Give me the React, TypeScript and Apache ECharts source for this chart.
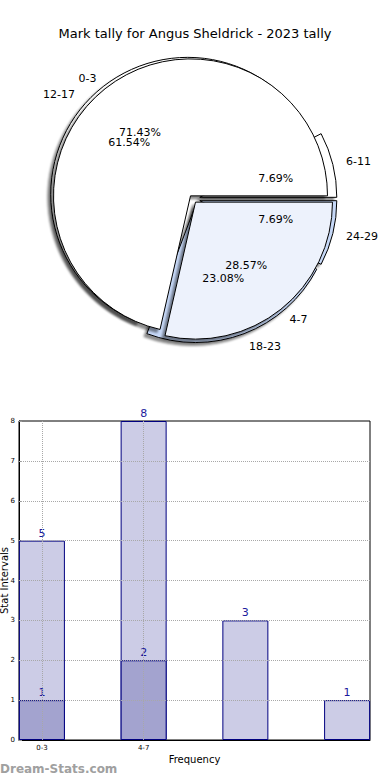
import React, { useEffect, useRef } from 'react';
import * as echarts from 'echarts';

const titleText = 'Mark tally for Angus Sheldrick - 2023 tally';
const pieOuterNames = ['0-3', '4-7'];
const pieOuterValues = [5, 2];
const pieOuterColors = ['#ffffff', '#edf2fc'];
const pieInnerNames = ['6-11', '12-17', '18-23', '24-29'];
const pieInnerValues = [1, 8, 3, 1];
const pieInnerColors = ['#ffffff', '#ffffff', '#c6d8f7', '#c6d8f7'];
const barPositions = [0, 1, 2, 3];
const barTotals = [5, 8, 3, 1];
const barSubPositions = [0, 1];
const barSubValues = [1, 2];
const xTickPositions = [0, 1];
const xTickLabels = ['0-3', '4-7'];
const yGridValues = [1, 2, 3, 4, 5, 6, 7];
const xAxisName = 'Frequency';
const yAxisName = 'Stat Intervals';
const watermark = 'Dream-Stats.com';

export default function App() {
  const ref = useRef<HTMLDivElement>(null);
  useEffect(() => {
    document.body.style.margin = '0';
    const chart = echarts.init(ref.current as HTMLDivElement, null, { renderer: 'svg' });
    const font = 'DejaVu Sans';
    const R = 137;
    const center = [193, 199];
    const shadow = { shadowBlur: 2, shadowOffsetX: -3, shadowOffsetY: 3, shadowColor: 'rgba(0,0,0,0.45)' };

    const sliceSeries = (names: string[], values: number[], colors: string[], offset: number) => ({
      type: 'pie',
      center,
      radius: [0, R],
      startAngle: 0,
      clockwise: false,
      selectedMode: 'multiple',
      selectedOffset: offset,
      avoidLabelOverlap: false,
      labelLayout: { hideOverlap: false },
      data: names.map((n, i) => ({ name: n, value: values[i], selected: true, itemStyle: { color: colors[i] } })),
      itemStyle: { borderColor: '#000', borderWidth: 1, ...shadow },
      select: { itemStyle: { borderColor: '#000', borderWidth: 1 } },
      label: { show: true, position: 'outside', formatter: '{b}', color: '#000', fontSize: 11, fontFamily: font, distanceToLabelLine: 0 },
      labelLine: { show: false, length: R * 0.1, length2: 0 },
      emphasis: { disabled: true },
    });
    const pctSeries = (names: string[], values: number[]) => ({
      type: 'pie',
      center,
      radius: [R * 0.2, R],
      startAngle: 0,
      clockwise: false,
      silent: true,
      avoidLabelOverlap: false,
      labelLayout: { hideOverlap: false },
      data: names.map((n, i) => ({ name: n, value: values[i] })),
      itemStyle: { color: 'rgba(0,0,0,0)', borderWidth: 0 },
      label: { show: true, position: 'inside', formatter: '{d}%', color: '#000', fontSize: 11, fontFamily: font },
      labelLine: { show: false },
      emphasis: { disabled: true },
    });

    const barLabel = { show: true, position: 'top', distance: 2, color: '#1a1a9c', fontSize: 11, fontFamily: font };

    chart.setOption({
      animation: false,
      backgroundColor: '#fff',
      textStyle: { fontFamily: font },
      title: {
        text: titleText,
        left: 'center',
        top: 22,
        textStyle: { fontSize: 13, fontWeight: 'normal', color: '#000', fontFamily: font },
      },
      grid: {
        left: 19, right: 20, top: 421, bottom: 40,
        outerBoundsMode: 'none', containLabel: false,
        show: true, borderColor: '#000', borderWidth: 1,
      },
      xAxis: {
        type: 'value',
        min: -0.225,
        max: 3.225,
        name: xAxisName,
        nameLocation: 'middle',
        nameGap: 14,
        nameMoveOverlap: false,
        nameTextStyle: { fontSize: 10, color: '#000', fontFamily: font },
        axisLine: { show: true, onZero: false, lineStyle: { color: '#000' } },
        axisTick: { show: true, customValues: xTickPositions, inside: true, length: 3, lineStyle: { color: '#999' } },
        axisLabel: {
          customValues: xTickPositions,
          formatter: (v: number) => xTickLabels[xTickPositions.indexOf(Math.round(v))] ?? '',
          fontSize: 7,
          color: '#000',
          margin: 4,
        },
        splitLine: { show: false },
      },
      yAxis: {
        type: 'value',
        min: 0,
        max: 8,
        interval: 1,
        name: yAxisName,
        nameLocation: 'middle',
        nameGap: 10,
        nameMoveOverlap: false,
        nameTextStyle: { fontSize: 10, color: '#000', fontFamily: font },
        axisLine: { show: true, onZero: false, lineStyle: { color: '#000' } },
        axisTick: { show: true, inside: true, length: 3, lineStyle: { color: '#999' } },
        axisLabel: { fontSize: 7, color: '#000', margin: 4 },
        splitLine: { show: false },
      },
      graphic: [
        {
          type: 'text',
          left: 0,
          top: 763,
          style: { text: watermark, fontSize: 12, fontWeight: 'bold', fill: '#a0a0a0', fontFamily: font },
        },
      ],
      series: [
        sliceSeries(pieInnerNames, pieInnerValues, pieInnerColors, 7),
        sliceSeries(pieOuterNames, pieOuterValues, pieOuterColors, 4),
        pctSeries(pieInnerNames, pieInnerValues),
        pctSeries(pieOuterNames, pieOuterValues),
        {
          type: 'bar',
          barWidth: 46,
          barGap: '-100%',
          data: barPositions.map((p, i) => [p, barTotals[i]]),
          itemStyle: { color: '#ccccE6', borderColor: '#000080', borderWidth: 1 },
          label: barLabel,
          emphasis: { disabled: true },
          z: 2,
        },
        {
          type: 'bar',
          barWidth: 46,
          barGap: '-100%',
          data: barSubPositions.map((p, i) => [p, barSubValues[i]]),
          itemStyle: { color: '#a3a3cf', borderColor: '#000080', borderWidth: 1 },
          label: barLabel,
          emphasis: { disabled: true },
          z: 3,
          markLine: {
            silent: true,
            symbol: 'none',
            z: 10,
            label: { show: false },
            lineStyle: { type: 'dotted', color: '#a8a8a8', width: 1 },
            emphasis: { disabled: true },
            data: [
              ...yGridValues.map((v) => ({ yAxis: v })),
              ...xTickPositions.map((v) => ({ xAxis: v })),
            ],
          },
        },
      ],
    });
    return () => chart.dispose();
  }, []);
  return <div ref={ref} style={{ width: 390, height: 780 }} />;
}
